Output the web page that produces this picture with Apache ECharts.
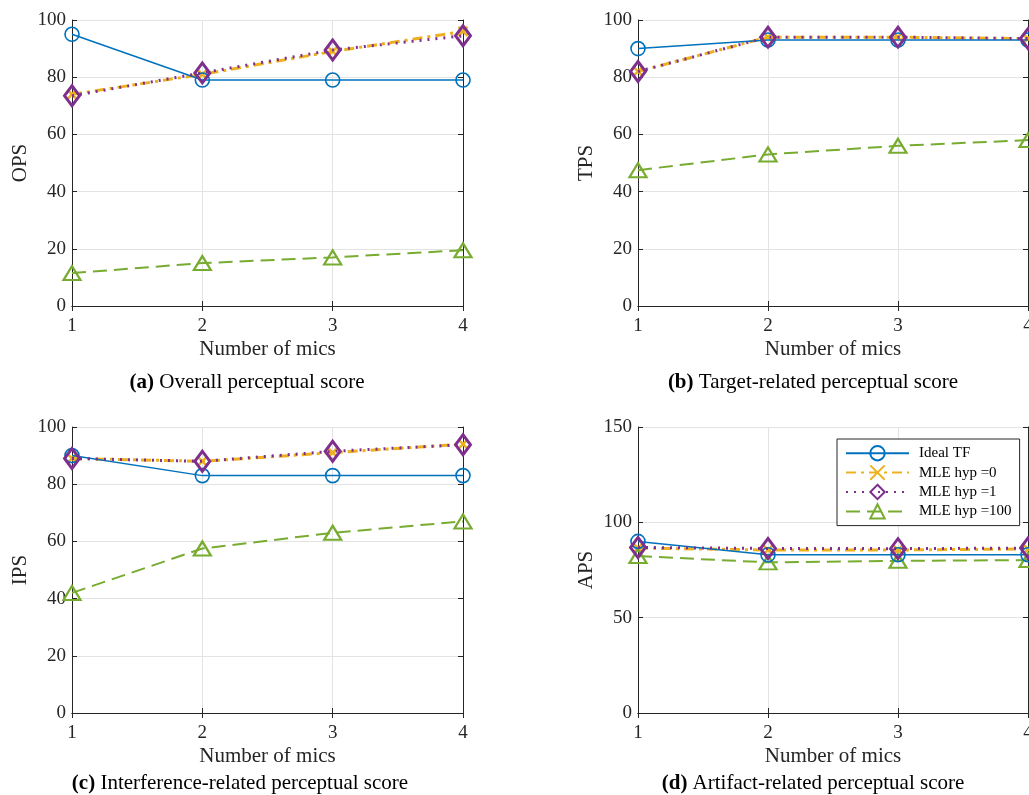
<!DOCTYPE html>
<html><head><meta charset="utf-8">
<script src="https://cdn.jsdelivr.net/npm/echarts@6/dist/echarts.min.js"></script>
<style>html,body{margin:0;padding:0;background:#fff}#c{width:1029px;height:795px}</style>
</head><body><div id="c"></div>
<script>
const categories = ['1','2','3','4'];
const seriesNames = ['Ideal TF','MLE hyp =0','MLE hyp =1','MLE hyp =100'];
// panel (a) OPS
const opsIdeal = [95, 79, 79, 79];
const opsHyp0  = [74, 81, 89, 96];
const opsHyp1  = [73.5, 81.5, 89.5, 94.5];
const opsHyp100 = [11.5, 15, 17, 19.5];
// panel (b) TPS
const tpsIdeal = [90, 93, 93, 93];
const tpsHyp0  = [82, 94, 94, 93.5];
const tpsHyp1  = [82, 94, 94, 93.5];
const tpsHyp100 = [47.5, 53, 56, 58];
// panel (c) IPS
const ipsIdeal = [90, 83, 83, 83];
const ipsHyp0  = [89, 88, 91, 94];
const ipsHyp1  = [89, 88, 91.5, 93.8];
const ipsHyp100 = [42, 57.5, 63, 67];
// panel (d) APS
const apsIdeal = [90, 83, 83, 83];
const apsHyp0  = [86.5, 85.5, 85.5, 86];
const apsHyp1  = [86.8, 86.3, 86.2, 86.5];
const apsHyp100 = [82.3, 79, 79.8, 80.2];
const yNames = ['OPS','TPS','IPS','APS'];
const yMax = [100, 100, 100, 150];
const yInterval = [20, 20, 20, 50];
const xName = 'Number of mics';
const captionTags = ['(a)','(b)','(c)','(d)'];
const captionTexts = [' Overall perceptual score',' Target-related perceptual score',' Interference-related perceptual score',' Artifact-related perceptual score'];

const panelData = [
  [opsIdeal, opsHyp0, opsHyp1, opsHyp100],
  [tpsIdeal, tpsHyp0, tpsHyp1, tpsHyp100],
  [ipsIdeal, ipsHyp0, ipsHyp1, ipsHyp100],
  [apsIdeal, apsHyp0, apsHyp1, apsHyp100]
];

const FONT = 'Liberation Serif';
const colors = ['#0072BD','#EDB120','#7E2F8E','#77AC30'];
const grids = [
  {left:72, top:20, width:391, height:286},
  {left:638, top:20, width:390, height:286},
  {left:72, top:427, width:391, height:286},
  {left:638, top:427, width:390, height:286}
];
const capPos = [[242,367],[808,367],[235,768],[808,768]];

const xAxes = [], yAxes = [], series = [], titles = [];
grids.forEach((g, i) => {
  const gridLine = {show:true, lineStyle:{color:'#e3e3e3', width:1}};
  xAxes.push({type:'category', gridIndex:i, data:categories, boundaryGap:false, position:'bottom',
    axisLine:{show:true, lineStyle:{color:'#262626', width:1}},
    axisTick:{show:true, inside:true, length:5, lineStyle:{color:'#262626'}},
    axisLabel:{color:'#262626', fontFamily:FONT, fontSize:19, margin:11, showMaxLabel:true},
    splitLine:gridLine,
    name:xName, nameLocation:'middle', nameGap:33,
    nameTextStyle:{color:'#262626', fontFamily:FONT, fontSize:21}});
  xAxes.push({type:'category', gridIndex:i, data:categories, boundaryGap:false, position:'top',
    axisLine:{show:true, lineStyle:{color:'#262626', width:1}},
    axisTick:{show:true, inside:true, length:5, lineStyle:{color:'#262626'}},
    axisLabel:{show:false}, splitLine:{show:false}});
  yAxes.push({type:'value', gridIndex:i, min:0, max:yMax[i], interval:yInterval[i], position:'left',
    axisLine:{show:true, lineStyle:{color:'#262626', width:1}},
    axisTick:{show:true, inside:true, length:5, lineStyle:{color:'#262626'}},
    axisLabel:{color:'#262626', fontFamily:FONT, fontSize:19, margin:6},
    splitLine:gridLine,
    name:yNames[i], nameLocation:'middle', nameGap:41, nameRotate:90,
    nameTextStyle:{color:'#262626', fontFamily:FONT, fontSize:21}});
  yAxes.push({type:'value', gridIndex:i, min:0, max:yMax[i], interval:yInterval[i], position:'right',
    axisLine:{show:true, lineStyle:{color:'#262626', width:1}},
    axisTick:{show:true, inside:true, length:5, lineStyle:{color:'#262626'}},
    axisLabel:{show:false}, splitLine:{show:false}});

  const d = panelData[i];
  const base = {type:'line', xAxisIndex:2*i, yAxisIndex:2*i, animation:false, z:3};
  series.push(Object.assign({}, base, {name:seriesNames[0], data:d[0], symbol:'circle', symbolSize:14,
    lineStyle:{color:colors[0], width:1.5, type:'solid'},
    itemStyle:{color:'rgba(255,255,255,0)', borderColor:colors[0], borderWidth:1.6}, z:4}));
  series.push(Object.assign({}, base, {name:seriesNames[1], data:d[1],
    symbol:'path://M0,0L10,10M10,0L0,10', symbolSize:9,
    lineStyle:{color:colors[1], width:3, type:[10,5,3,5]},
    itemStyle:{color:'rgba(0,0,0,0)', borderColor:colors[1], borderWidth:2.5}}));
  series.push(Object.assign({}, base, {name:seriesNames[2], data:d[2], symbol:'diamond', symbolSize:[15,20],
    lineStyle:{color:colors[2], width:3, type:[2,6]},
    itemStyle:{color:'rgba(255,255,255,0)', borderColor:colors[2], borderWidth:3}, z:5}));
  series.push(Object.assign({}, base, {name:seriesNames[3], data:d[3], symbol:'triangle', symbolSize:[17,14],
    lineStyle:{color:colors[3], width:2, type:[14,7]},
    itemStyle:{color:'rgba(255,255,255,0)', borderColor:colors[3], borderWidth:2.2}}));

  titles.push({text:'{b|' + captionTags[i] + '}{n|' + captionTexts[i] + '}', left:capPos[i][0], top:capPos[i][1], textAlign:'center',
    textStyle:{fontWeight:'normal', fontFamily:FONT, fontSize:21,
      rich:{b:{fontFamily:FONT, fontSize:21, fontWeight:'bold', color:'#000'}, n:{fontFamily:FONT, fontSize:21, fontWeight:'normal', color:'#000'}}}});
});

const chart = echarts.init(document.getElementById('c'));
chart.setOption({
  backgroundColor:'#fff',
  animation:false,
  title:titles,
  grid:grids.map(g => Object.assign({containLabel:false, outerBoundsMode:'none', show:false}, g)),
  xAxis:xAxes, yAxis:yAxes, series:series,
  legend:{show:true, orient:'vertical', left:837, top:439, width:179,
    data:seriesNames,
    backgroundColor:'#fff', borderColor:'#262626', borderWidth:1, padding:[6,8,6,8],
    itemWidth:63, itemHeight:18, itemGap:3,
    textStyle:{fontFamily:FONT, fontSize:15, color:'#000', padding:[0,0,0,5]}}
});
</script></body></html>
